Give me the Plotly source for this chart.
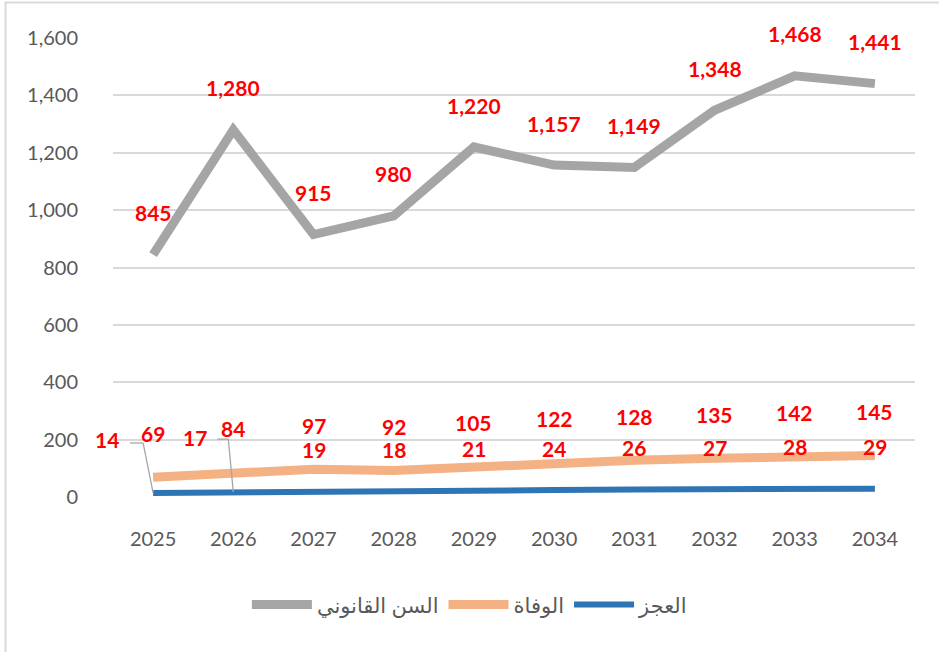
import plotly.graph_objects as go

years = [2025, 2026, 2027, 2028, 2029, 2030, 2031, 2032, 2033, 2034]
legal_age = [845, 1280, 915, 980, 1220, 1157, 1149, 1348, 1468, 1441]
death = [69, 84, 97, 92, 105, 122, 128, 135, 142, 145]
disability = [14, 17, 19, 18, 21, 24, 26, 27, 28, 29]
y_ticks = [0, 200, 400, 600, 800, 1000, 1200, 1400, 1600]

names = {"legal": "السن القانوني", "death": "الوفاة", "dis": "العجز"}
colors = {"legal": "#A5A5A5", "death": "#F4B183", "dis": "#2E75B6"}
FONT = "Lato, 'DejaVu Sans', sans-serif"

fig = go.Figure()
fig.add_trace(go.Scatter(x=years, y=legal_age, mode="lines", name=names["legal"],
                         line=dict(color=colors["legal"], width=9)))
fig.add_trace(go.Scatter(x=years, y=death, mode="lines", name=names["death"],
                         line=dict(color=colors["death"], width=9)))
fig.add_trace(go.Scatter(x=years, y=disability, mode="lines", name=names["dis"],
                         line=dict(color=colors["dis"], width=6)))

lab_font = dict(family=FONT, size=21, color="#FF0000", weight="bold")
anns = []
shapes = [dict(type="rect", xref="paper", yref="paper", x0=-0.134, x1=1.2,
               y0=-0.5, y1=1.0773, line=dict(color="#D9D9D9", width=2))]
for x, v in zip(years, legal_age):
    anns.append(dict(x=x, y=v, text=f"{v:,}", showarrow=False, yshift=42, font=lab_font))
for x, v in zip(years, death):
    anns.append(dict(x=x, y=v, text=f"{v:,}", showarrow=False, yshift=44, font=lab_font))

# leader-line labels (text dx, dy, corner dx, dy, horizontal end dx) in pixels
leader = {0: (-46, 53, -10, 50, -23), 1: (-38, 55, -5, 53, -16)}
for i, (x, v) in enumerate(zip(years, disability)):
    if i in leader:
        tx, ty, cx, cy, hx = leader[i]
        anns.append(dict(x=x, y=v, text=f"{v:,}", showarrow=False,
                         xshift=tx, yshift=ty, font=lab_font))
        lc = dict(color="#A6A6A6", width=1.3)
        shapes.append(dict(type="line", xref="x", yref="y", xsizemode="pixel",
                           ysizemode="pixel", xanchor=x, yanchor=v,
                           x0=0, y0=0, x1=cx, y1=cy, line=lc))
        shapes.append(dict(type="line", xref="x", yref="y", xsizemode="pixel",
                           ysizemode="pixel", xanchor=x, yanchor=v,
                           x0=cx, y0=cy, x1=hx, y1=cy, line=lc))
    else:
        anns.append(dict(x=x, y=v, text=f"{v:,}", showarrow=False, yshift=42, font=lab_font))

fig.update_layout(
    width=939, height=652,
    margin=dict(l=113, r=24, t=38, b=155),
    paper_bgcolor="white", plot_bgcolor="white",
    font=dict(family=FONT, color="#595959", size=20),
    showlegend=True,
    legend=dict(orientation="h", x=0.445, xanchor="center", y=-0.235, yanchor="middle",
                font=dict(size=21, color="#595959"), itemwidth=60),
    annotations=anns,
    shapes=shapes,
)
fig.update_xaxes(range=[years[0] - 0.5, years[-1] + 0.5], tickvals=years,
                 tickformat="d", showgrid=False, showline=False, zeroline=False,
                 ticks="", tickfont=dict(size=20, color="#595959"), ticklabelstandoff=28)
fig.update_yaxes(range=[0, 1600], tickvals=y_ticks, tickformat=",", showgrid=True,
                 gridcolor="#D9D9D9", gridwidth=1.5, zeroline=False, showline=False,
                 tickfont=dict(size=20, color="#595959"), ticklabelstandoff=34)

fig.write_html("out.html", config={"displayModeBar": False},
               post_script="document.body.style.margin='0';document.body.style.overflow='hidden';")
